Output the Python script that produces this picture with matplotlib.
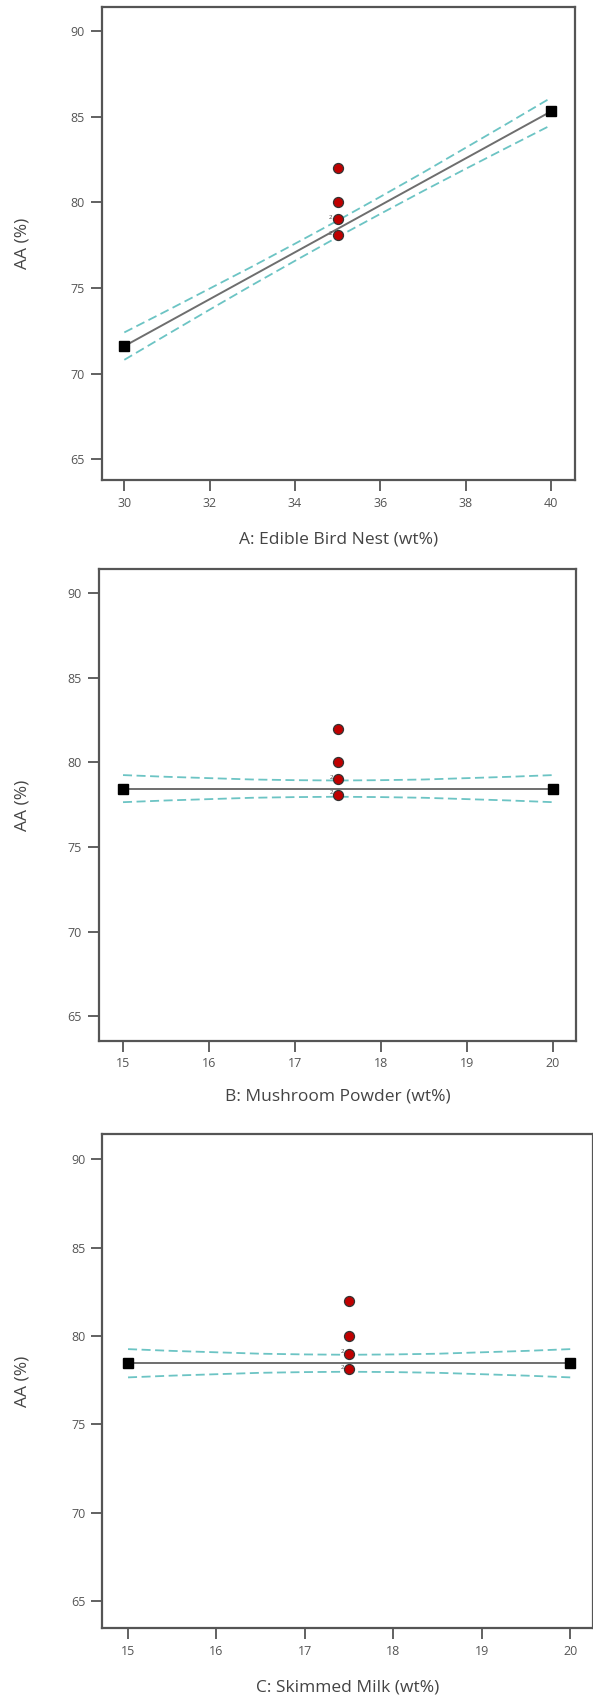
import numpy as np
import matplotlib.pyplot as plt

plt.rcParams['font.family'] = ['Open Sans', 'DejaVu Sans']

# panel A: Edible Bird Nest
a_x = [30, 31, 32, 33, 34, 35, 36, 37, 38, 39, 40]
a_fit = [71.6, 72.97, 74.34, 75.71, 77.08, 78.45, 79.82, 81.19, 82.56, 83.93, 85.3]
a_upper = [72.40, 73.67, 74.96, 76.25, 77.58, 78.93, 80.32, 81.73, 83.18, 84.63, 86.10]
a_lower = [70.80, 72.27, 73.73, 75.17, 76.58, 77.97, 79.32, 80.65, 81.95, 83.23, 84.50]
a_ends = [30, 40]
a_ends_y = [71.6, 85.3]

# panels B and C share the same flat fit
bc_x = [15, 15.5, 16, 16.5, 17, 17.5, 18, 18.5, 19, 19.5, 20]
bc_fit = [78.45] * 11
bc_upper = [79.25, 79.15, 79.07, 78.99, 78.95, 78.93, 78.95, 78.99, 79.07, 79.15, 79.25]
bc_lower = [77.65, 77.75, 77.83, 77.91, 77.95, 77.97, 77.95, 77.91, 77.83, 77.75, 77.65]
bc_ends = [15, 20]
bc_ends_y = [78.45, 78.45]

# design points (centre runs)
pts_y = [82.0, 80.0, 79.0, 78.1]
pts_count = ['', '', '2', '2']

panels = [
    dict(pos=[0.1715, 0.7172, 0.7976, 0.2789], x=a_x, fit=a_fit, up=a_upper, lo=a_lower,
         ends=a_ends, ends_y=a_ends_y, xc=35, xlim=(29.47, 40.555), xticks=[30, 32, 34, 36, 38, 40],
         ylim=(63.79, 91.42), xlabel='A: Edible Bird Nest (wt%)', lab_off=0.12,
         xl=-0.1268, yl=-0.168),
    dict(pos=[0.1664, 0.3867, 0.8054, 0.2778], x=bc_x, fit=bc_fit, up=bc_upper, lo=bc_lower,
         ends=bc_ends, ends_y=bc_ends_y, xc=17.5, xlim=(14.717, 20.271), xticks=[15, 16, 17, 18, 19, 20],
         ylim=(63.56, 91.40), xlabel='B: Mushroom Powder (wt%)', lab_off=0.06,
         xl=-0.119, yl=-0.16),
    dict(pos=[0.1725, 0.0407, 0.828, 0.2909], x=bc_x, fit=bc_fit, up=bc_upper, lo=bc_lower,
         ends=bc_ends, ends_y=bc_ends_y, xc=17.5, xlim=(14.709, 20.26), xticks=[15, 16, 17, 18, 19, 20],
         ylim=(63.47, 91.41), xlabel='C: Skimmed Milk (wt%)', lab_off=0.06,
         xl=-0.1215, yl=-0.1635),
]

fig = plt.figure(figsize=(5.93, 16.97), dpi=100)

for p in panels:
    ax = fig.add_axes(p['pos'])
    ax.plot(p['x'], p['up'], color='#6cc4c4', lw=1.3, ls=(0, (5, 2.5)), zorder=2)
    ax.plot(p['x'], p['lo'], color='#6cc4c4', lw=1.3, ls=(0, (5, 2.5)), zorder=2)
    ax.plot(p['x'], p['fit'], color='#6e6e6e', lw=1.4, zorder=3)
    ax.plot(p['ends'], p['ends_y'], ls='none', marker='s', ms=7, color='black', zorder=4)
    ax.plot([p['xc']] * len(pts_y), pts_y, ls='none', marker='o', ms=7.2,
            markerfacecolor='#c00000', markeredgecolor='#333333', markeredgewidth=0.9, zorder=5)
    for y, c in zip(pts_y, pts_count):
        if c:
            ax.text(p['xc'] - p['lab_off'], y + 0.1, c, fontsize=4.5, color='#444444',
                    ha='right', va='center', zorder=5)
    ax.set_xlim(*p['xlim'])
    ax.set_ylim(*p['ylim'])
    ax.set_xticks(p['xticks'])
    ax.set_yticks([65, 70, 75, 80, 85, 90])
    for s in ax.spines.values():
        s.set_color('#555555')
        s.set_linewidth(1.6)
    ax.tick_params(direction='out', length=8, width=1.3, color='#555555',
                   labelsize=9, labelcolor='#555555', pad=4)
    ax.set_xlabel(p['xlabel'], fontsize=12.5, color='#444444', va='center')
    ax.set_ylabel('AA (%)', fontsize=12.5, color='#444444', va='center')
    ax.xaxis.set_label_coords(0.5, p['xl'])
    ax.yaxis.set_label_coords(p['yl'], 0.5)

fig.savefig('out.png', dpi=100)
